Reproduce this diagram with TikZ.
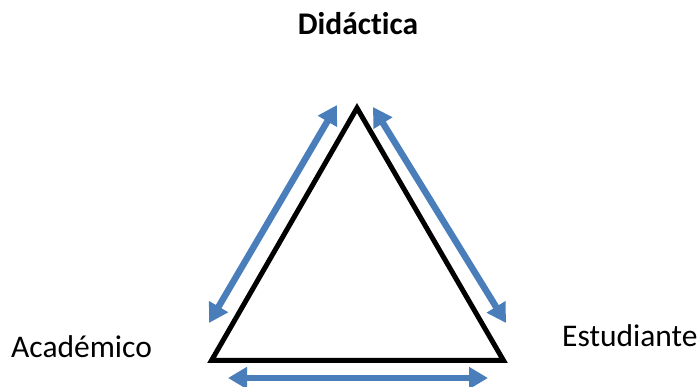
\documentclass[tikz,border=0pt]{standalone}
\usepackage{fontspec}
\setmainfont{Carlito}[Ligatures=CommonOff]
\usetikzlibrary{arrows.meta}
\definecolor{flowblue}{RGB}{74,126,187}
\tikzset{
  flow/.style={draw=flowblue, line width=6.5pt, {Triangle[width=21pt,length=19pt]}-{Triangle[width=21pt,length=19pt]}},
  corner/.style={font=\fontsize{31.5}{38}\selectfont, inner sep=0pt},
}
\begin{document}
\begin{tikzpicture}[x=1pt,y=-1pt]
\useasboundingbox (0,0) rectangle (699,387);

% vertices of the triangle
\coordinate (top) at (357,108);
\coordinate (left) at (211.5,360.5);
\coordinate (right) at (503.5,360.5);

\draw[line width=5pt] (top) -- (left) -- (right) -- cycle;

% ends of the double arrows
\coordinate (l1) at (209,323);
\coordinate (l2) at (337,105);
\coordinate (r1) at (373,107);
\coordinate (r2) at (506,323);
\coordinate (b1) at (228,378);
\coordinate (b2) at (488,378);

\draw[flow] (l1) -- (l2);
\draw[flow] (r1) -- (r2);
\draw[flow] (b1) -- (b2);

\node[corner, anchor=base, font=\fontsize{31.5}{38}\selectfont\bfseries] (didactica) at (358,35) {Didáctica};
\node[corner, anchor=base west] (academico) at (11,358) {Académico};
\node[corner, anchor=base west] (estudiante) at (562,347) {Estudiante};
\end{tikzpicture}
\end{document}
